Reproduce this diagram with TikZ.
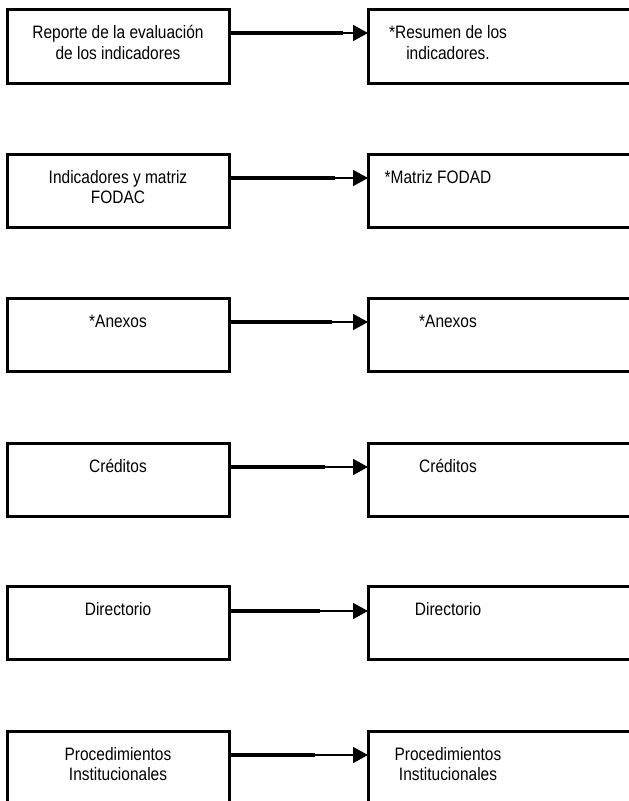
\documentclass[tikz,border=0pt]{standalone}
\usepackage{fontspec}
\setmainfont[FakeStretch=0.86]{Liberation Sans}
\usetikzlibrary{arrows.meta}
\begin{document}
\begin{tikzpicture}[x=1bp,y=-1bp,
  lbox/.style={draw, line width=3bp, minimum width=221.5bp, minimum height=73bp, inner sep=0pt, outer sep=0pt},
  rbox/.style={draw, line width=3bp, minimum width=272bp, minimum height=73bp, inner sep=0pt, outer sep=0pt},
  txt/.style={font=\fontsize{18bp}{20.5bp}\selectfont, align=center, inner sep=0pt, anchor=base},
  heavyline/.style={line width=3.6bp},
  lightline/.style={line width=1.6bp, -{Triangle[length=15bp,width=16bp]}}
]
\useasboundingbox (0,0) rectangle (629,801);
% row 1
\node[lbox] (L1) at (118.25,46.5) {};
\node[rbox] (R1) at (504,46.5) {};
\node[txt] (tL1) at (118,59.5) {Reporte de la evaluación\\de los indicadores};
\node[txt] (tR1) at (448,59.5) {*Resumen de los\\indicadores.};
\coordinate (m1) at (343,33);
\draw[heavyline] (L1.east |- m1) -- (m1);
\draw[lightline] (m1) -- (R1.west |- m1);
% row 2
\node[lbox] (L2) at (118.25,190.5) {};
\node[rbox] (R2) at (504,190.5) {};
\node[txt] (tL2) at (118,203.5) {Indicadores y matriz\\FODAC};
\node[txt] (tR2) at (438,183) {*Matriz FODAD};
\coordinate (m2) at (335,178);
\draw[heavyline] (L2.east |- m2) -- (m2);
\draw[lightline] (m2) -- (R2.west |- m2);
% row 3
\node[lbox] (L3) at (118.25,334.5) {};
\node[rbox] (R3) at (504,334.5) {};
\node[txt] (tL3) at (118,327) {*Anexos};
\node[txt] (tR3) at (448,327) {*Anexos};
\coordinate (m3) at (332,322);
\draw[heavyline] (L3.east |- m3) -- (m3);
\draw[lightline] (m3) -- (R3.west |- m3);
% row 4
\node[lbox] (L4) at (118.25,479.5) {};
\node[rbox] (R4) at (504,479.5) {};
\node[txt] (tL4) at (118,472) {Créditos};
\node[txt] (tR4) at (448,472) {Créditos};
\coordinate (m4) at (325,467);
\draw[heavyline] (L4.east |- m4) -- (m4);
\draw[lightline] (m4) -- (R4.west |- m4);
% row 5
\node[lbox] (L5) at (118.25,622.5) {};
\node[rbox] (R5) at (504,622.5) {};
\node[txt] (tL5) at (118,615) {Directorio};
\node[txt] (tR5) at (448,615) {Directorio};
\coordinate (m5) at (320,611);
\draw[heavyline] (L5.east |- m5) -- (m5);
\draw[lightline] (m5) -- (R5.west |- m5);
% row 6
\node[lbox] (L6) at (118.25,767.5) {};
\node[rbox] (R6) at (504,767.5) {};
\node[txt] (tL6) at (118,780.5) {Procedimientos\\Institucionales};
\node[txt] (tR6) at (448,780.5) {Procedimientos\\Institucionales};
\coordinate (m6) at (315,755);
\draw[heavyline] (L6.east |- m6) -- (m6);
\draw[lightline] (m6) -- (R6.west |- m6);
\end{tikzpicture}
\end{document}
